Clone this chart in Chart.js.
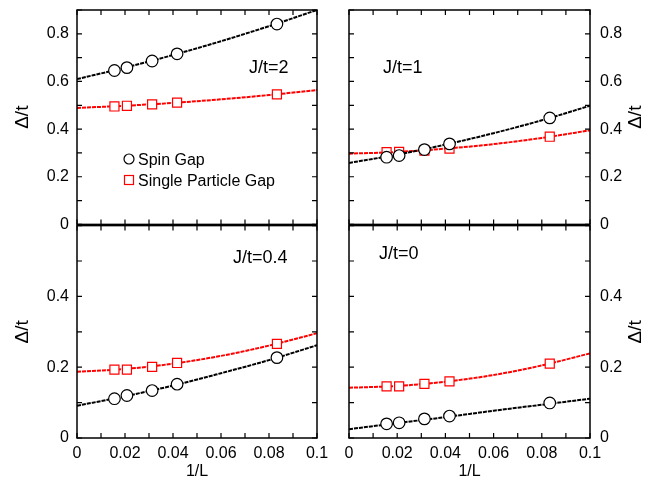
<!DOCTYPE html>
<html>
<head>
<meta charset="utf-8">
<script src="https://cdn.jsdelivr.net/npm/chart.js@4.4.1/dist/chart.umd.min.js"></script>
<style>
  html, body { margin: 0; padding: 0; background: #fff; }
  #wrap { position: relative; width: 648px; height: 483px; overflow: hidden; }
  canvas { position: absolute; }
</style>
</head>
<body>
<div id="wrap">
  <canvas id="tl" style="left:0px;top:0px;width:330px;height:232px"></canvas>
  <canvas id="tr" style="left:330px;top:0px;width:318px;height:232px"></canvas>
  <canvas id="bl" style="left:0px;top:218px;width:330px;height:265px"></canvas>
  <canvas id="br" style="left:330px;top:218px;width:318px;height:265px"></canvas>
</div>
<script>
// 1/L for L = 64, 48, 32, 24, 12
const invL = [0.0156, 0.0208, 0.0313, 0.0417, 0.0833];
const fitX = [0, 0.02, 0.04, 0.06, 0.08, 0.1];

const spinJ2 = [0.646, 0.658, 0.686, 0.716, 0.841];
const singleJ2 = [0.495, 0.498, 0.504, 0.511, 0.546];
const spinFitJ2 = [0.61, 0.658, 0.711, 0.769, 0.832, 0.9];
const singleFitJ2 = [0.489, 0.498, 0.510, 0.525, 0.543, 0.564];

const spinJ1 = [0.282, 0.289, 0.314, 0.338, 0.447];
const singleJ1 = [0.303, 0.304, 0.31, 0.318, 0.368];
const spinFitJ1 = [0.258, 0.293, 0.335, 0.383, 0.437, 0.498];
const singleFitJ1 = [0.297, 0.304, 0.318, 0.337, 0.363, 0.395];

const spinJ04 = [0.111, 0.12, 0.134, 0.152, 0.227];
const singleJ04 = [0.193, 0.193, 0.201, 0.212, 0.266];
const spinFitJ04 = [0.091, 0.118, 0.148, 0.183, 0.220, 0.262];
const singleFitJ04 = [0.187, 0.195, 0.210, 0.232, 0.261, 0.296];

const spinJ0 = [0.04, 0.043, 0.054, 0.062, 0.099];
const singleJ0 = [0.146, 0.146, 0.153, 0.16, 0.21];
const spinFitJ0 = [0.025, 0.042, 0.059, 0.077, 0.094, 0.111];
const singleFitJ0 = [0.142, 0.147, 0.159, 0.178, 0.205, 0.239];

const legendLabels = ['Spin Gap', 'Single Particle Gap'];
const RED = '#ff0000';
const FONT = "'Liberation Sans', Arial, Helvetica, sans-serif";

Chart.defaults.font.family = FONT;
Chart.defaults.font.size = 16;
Chart.defaults.color = '#000';

const pts = (xs, ys) => xs.map((x, i) => ({ x: x, y: ys[i] }));

// frame, inward ticks on all four sides, panel label, legend, right-side title
const framePlugin = {
  id: 'frame',
  afterDraw(chart, args, opts) {
    const ctx = chart.ctx;
    const a = chart.chartArea;
    const xs = chart.scales.x, ys = chart.scales.y;
    ctx.save();
    ctx.strokeStyle = '#000';
    ctx.lineWidth = 1.5;
    ctx.strokeRect(a.left, a.top, a.right - a.left, a.bottom - a.top);
    ctx.lineWidth = 1.2;
    ctx.beginPath();
    xs.ticks.forEach(t => {
      const px = xs.getPixelForValue(t.value);
      ctx.moveTo(px, a.bottom); ctx.lineTo(px, a.bottom - 5);
      ctx.moveTo(px, a.top); ctx.lineTo(px, a.top + 5);
    });
    ys.ticks.forEach(t => {
      const py = ys.getPixelForValue(t.value);
      ctx.moveTo(a.left, py); ctx.lineTo(a.left + 5, py);
      ctx.moveTo(a.right, py); ctx.lineTo(a.right - 5, py);
    });
    ctx.stroke();

    ctx.fillStyle = '#000';
    ctx.font = '18px ' + FONT;
    ctx.textBaseline = 'alphabetic';
    ctx.textAlign = 'left';
    ctx.fillText(opts.label, opts.labelX, opts.labelY);

    if (opts.legend) {
      ctx.font = '16px ' + FONT;
      const lx = opts.legend.x, ly = opts.legend.y;
      ctx.lineWidth = 1.2;
      ctx.strokeStyle = '#000';
      ctx.beginPath();
      ctx.arc(lx, ly, 5, 0, Math.PI * 2);
      ctx.stroke();
      ctx.fillText(legendLabels[0], lx + 9, ly + 6);
      ctx.strokeStyle = RED;
      ctx.strokeRect(lx - 4.5, ly + 16.5, 9, 9);
      ctx.fillText(legendLabels[1], lx + 9, ly + 27);
    }

    if (opts.rightTitle) {
      ctx.font = '19px ' + FONT;
      ctx.textAlign = 'center';
      ctx.textBaseline = 'middle';
      ctx.translate(opts.rightTitle, (a.top + a.bottom) / 2);
      ctx.rotate(-Math.PI / 2);
      ctx.fillText('Δ/t', 0, 0);
    }
    ctx.restore();
  }
};

function makePanel(id, p) {
  const left = p.side === 'left';
  new Chart(document.getElementById(id), {
    type: 'scatter',
    data: {
      datasets: [
        { data: pts(invL, p.spin), showLine: false, pointStyle: 'circle', pointRadius: 5.8,
          pointBackgroundColor: '#fff', pointBorderColor: '#000', pointBorderWidth: 1.2, order: 0 },
        { data: pts(invL, p.single), showLine: false, pointStyle: 'rect', pointRadius: 6.4,
          pointBackgroundColor: '#fff', pointBorderColor: RED, pointBorderWidth: 1.2, order: 0 },
        { data: pts(fitX, p.spinFit), showLine: true, pointRadius: 0, borderColor: '#000',
          borderWidth: 2, borderDash: [4, 1], cubicInterpolationMode: 'monotone', order: 1 },
        { data: pts(fitX, p.singleFit), showLine: true, pointRadius: 0, borderColor: RED,
          borderWidth: 2, borderDash: [4, 1], cubicInterpolationMode: 'monotone', order: 1 }
      ]
    },
    options: {
      responsive: false,
      animation: false,
      events: [],
      layout: { padding: p.padding },
      plugins: {
        legend: { display: false },
        tooltip: { enabled: false },
        frame: { label: p.label, labelX: p.labelX, labelY: p.labelY, legend: p.legend,
                 rightTitle: left ? null : p.rightTitleX }
      },
      scales: {
        x: {
          type: 'linear', min: 0, max: 0.1,
          grid: { display: false, drawTicks: false },
          border: { display: false },
          ticks: {
            display: p.bottom, stepSize: 0.01, autoSkip: false, maxRotation: 0, padding: 6,
            callback: v => (Math.round(v * 100) % 2 ? '' : String(+v.toFixed(2)))
          },
          title: { display: p.bottom, text: '1/L', font: { size: 16 }, padding: { top: 0, bottom: 2 } },
          afterFit: s => {
            s.height = p.xHeight;
            s.paddingLeft = 0; s.paddingRight = 0; s.paddingTop = 0; s.paddingBottom = 0;
          }
        },
        y: {
          type: 'linear', position: p.side, min: 0, max: p.yMax,
          grid: { display: false, drawTicks: false },
          border: { display: false },
          ticks: {
            stepSize: 0.1, autoSkip: false, padding: left ? 8 : 10,
            callback: v => (Math.round(v * 10) % 2 || v > p.yMax - 0.05 ? '' : String(+v.toFixed(1)))
          },
          title: { display: left, text: 'Δ/t', font: { size: 19 }, padding: { top: 11, bottom: 0 } },
          afterFit: s => {
            s.width = p.yWidth;
            s.paddingLeft = 0; s.paddingRight = 0; s.paddingTop = 0; s.paddingBottom = 0;
          }
        }
      }
    },
    plugins: [framePlugin]
  });
}

const canvases = { tl: [330, 232], tr: [318, 232], bl: [330, 265], br: [318, 265] };
Object.keys(canvases).forEach(k => {
  const c = document.getElementById(k);
  c.width = canvases[k][0];
  c.height = canvases[k][1];
});

makePanel('tl', {
  side: 'left', bottom: false, yMax: 0.9, yWidth: 77, xHeight: 7,
  padding: { top: 10, right: 13, left: 0, bottom: 0 },
  spin: spinJ2, single: singleJ2, spinFit: spinFitJ2, singleFit: singleFitJ2,
  label: 'J/t=2', labelX: 249, labelY: 73,
  legend: { x: 129, y: 159 }
});
makePanel('tr', {
  side: 'right', bottom: false, yMax: 0.9, yWidth: 58, xHeight: 7,
  padding: { top: 10, right: 0, left: 19, bottom: 0 },
  spin: spinJ1, single: singleJ1, spinFit: spinFitJ1, singleFit: singleFitJ1,
  label: 'J/t=1', labelX: 53, labelY: 73, rightTitleX: 306
});
makePanel('bl', {
  side: 'left', bottom: true, yMax: 0.6, yWidth: 77, xHeight: 45,
  padding: { top: 7, right: 13, left: 0, bottom: 0 },
  spin: spinJ04, single: singleJ04, spinFit: spinFitJ04, singleFit: singleFitJ04,
  label: 'J/t=0.4', labelX: 233, labelY: 45
});
makePanel('br', {
  side: 'right', bottom: true, yMax: 0.6, yWidth: 58, xHeight: 45,
  padding: { top: 7, right: 0, left: 19, bottom: 0 },
  spin: spinJ0, single: singleJ0, spinFit: spinFitJ0, singleFit: singleFitJ0,
  label: 'J/t=0', labelX: 49, labelY: 41, rightTitleX: 306
});
</script>
</body>
</html>
